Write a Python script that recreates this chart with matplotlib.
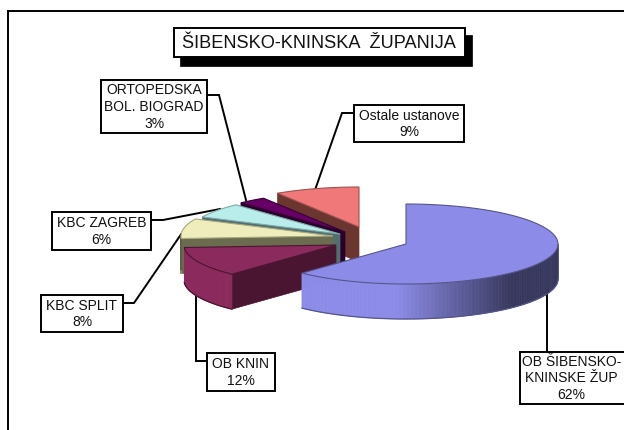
import numpy as np
import matplotlib
matplotlib.use("Agg")
import matplotlib.pyplot as plt
from matplotlib.collections import PolyCollection
from matplotlib.patches import Polygon, Rectangle
from matplotlib.colors import to_rgb

# data
title = "ŠIBENSKO-KNINSKA  ŽUPANIJA"
names = ["OB ŠIBENSKO-\nKNINSKE ŽUP", "OB KNIN", "KBC SPLIT", "KBC ZAGREB",
         "ORTOPEDSKA\nBOL. BIOGRAD", "Ostale ustanove"]
values = [62, 12, 8, 6, 3, 9]

# styling / layout
top_cols = ["#8C8CE8", "#8B2A5C", "#EEEDBB", "#B9EDEB", "#660066", "#F07878"]
face_cols = ["#3C3C64", "#4A1530", "#6B6B50", "#4F6F70", "#2A002A", "#6B3530"]
rim_light = ["#8C8CE8", "#8B2A5C", "#5F5F48", "#4F6F70", "#2A002A", "#6B3530"]
rim_dark = ["#38385E", "#7A2550", "#5F5F48", "#4F6F70", "#2A002A", "#6B3530"]
edge_cols = ["#55558C", "#4A1530", "#A8A880", "#80A8A8", "#330033", "#A05050"]
apex = [(406, 244), (336, 245), (333, 236), (340, 234), (345, 232), (359, 227)]
RX, RY, DEPTH = 152, 40, 35

boxes = [(520, 352, 120, 52), (207, 353, 68, 38), (41, 295, 82, 37),
         (52, 212, 99, 38), (101, 80, 106, 53), (354, 105, 110, 37)]
leaders = [[(547, 352), (547, 290)],
           [(207, 361), (196, 361), (196, 290)],
           [(123, 303), (134, 303), (184, 230)],
           [(151, 220), (163, 220), (220, 209)],
           [(207, 95), (219, 95), (246, 200)],
           [(354, 113), (342, 113), (315, 190)]]

plt.rcParams["font.family"] = ["Liberation Sans", "DejaVu Sans"]
fig = plt.figure(figsize=(6.24, 4.30), dpi=100, facecolor="white")
ax = fig.add_axes([0, 0, 1, 1])
ax.set_xlim(0, 624)
ax.set_ylim(430, 0)
ax.axis("off")

# outer frame (runs off the right and bottom of the picture)
ax.plot([8, 8], [430, 10.5], color="black", lw=1.4, zorder=1)
ax.plot([8, 624], [10.5, 10.5], color="black", lw=1.4, zorder=1)

# leaders
for pts in leaders:
    xs, ys = zip(*pts)
    ax.plot(xs, ys, color="black", lw=1.4, zorder=2, solid_joinstyle="miter")


def point(c, deg, dy=0.0):
    t = np.radians(deg)
    return c[0] + RX * np.sin(t), c[1] - RY * np.cos(t) + dy


# slice angles clockwise from 12 o'clock
fracs = np.array(values, dtype=float) / np.sum(values) * 360
ends = np.cumsum(fracs)
starts = ends - fracs

# painter's order: back to front
for i in [5, 4, 3, 2, 1, 0]:
    c, a0, a1 = apex[i], starts[i], ends[i]
    z = 10 + (5 - i)
    # radial cut face (only on the left half, where it faces the viewer)
    if a0 > 180:
        p = point(c, a0)
        ax.add_patch(Polygon([c, p, (p[0], p[1] + DEPTH), (c[0], c[1] + DEPTH)],
                             closed=True, fc=face_cols[i], ec=face_cols[i], lw=0.5, zorder=z))
    # outer rim: visible between 90 and 270 degrees
    r0, r1 = max(a0, 90), min(a1, 270)
    if r1 > r0:
        ang = np.linspace(r0, r1, 90)
        polys, cols = [], []
        light = np.array(to_rgb(rim_light[i]))
        dark = np.array(to_rgb(rim_dark[i]))
        for u, v in zip(ang[:-1], ang[1:]):
            pu, pv = point(c, u), point(c, v)
            polys.append([pu, pv, (pv[0], pv[1] + DEPTH), (pu[0], pu[1] + DEPTH)])
            # shade by horizontal position: dark towards the right
            s = np.sin(np.radians(u))
            k = np.clip((s + 0.05) / 0.75, 0, 1) if i == 0 else 0.0
            cols.append(light * (1 - k) + dark * k)
        ax.add_collection(PolyCollection(polys, facecolors=cols, edgecolors=cols,
                                         linewidths=0.5, zorder=z + 0.1))
        # bottom edge of rim
        bx, by = zip(*[point(c, u, DEPTH) for u in ang])
        ax.plot(bx, by, color=edge_cols[i], lw=0.9, zorder=z + 0.2)
    # top surface
    ang = np.linspace(a0, a1, 80)
    top = [c] + [point(c, u) for u in ang]
    ax.add_patch(Polygon(top, closed=True, fc=top_cols[i], ec=edge_cols[i], lw=0.8, zorder=z + 0.3))

# label boxes
for (x, y, w, h), name, val in zip(boxes, names, values):
    ax.add_patch(Rectangle((x, y), w, h, fc="white", ec="black", lw=1.4, zorder=30))
    ax.text(min(x + w / 2, 571.5), y + h / 2 + 0.5, f"{name}\n{val}%", ha="center", va="center",
            fontsize=10, linespacing=1.25, color="#111111", zorder=31)

# title box with shadow
ax.add_patch(Rectangle((180, 35), 292, 31, fc="black", ec="black", lw=0.5, zorder=30))
ax.add_patch(Rectangle((174, 28), 291, 29, fc="white", ec="black", lw=1.4, zorder=31))
ax.text(319, 43, title, ha="center", va="center", fontsize=13.1, color="#111111", zorder=32)

fig.savefig("out.png", dpi=100, facecolor="white")
